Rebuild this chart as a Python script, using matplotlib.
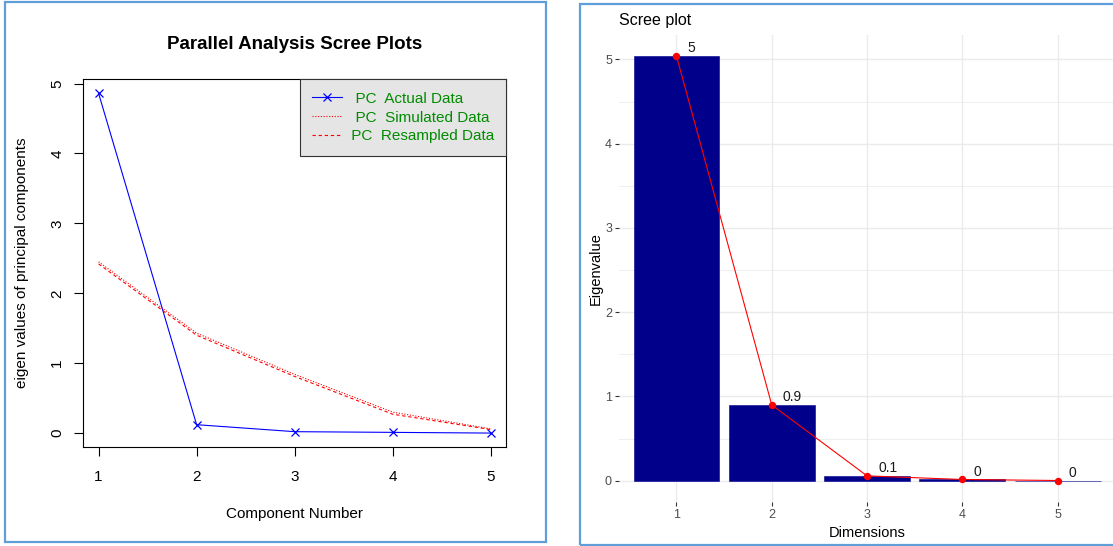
import matplotlib.pyplot as plt
from matplotlib.patches import Rectangle
from matplotlib.ticker import MultipleLocator

plt.rcParams['font.family'] = ['Liberation Sans', 'DejaVu Sans']

# left: parallel analysis scree (psych style)
components = [1, 2, 3, 4, 5]
pc_actual = [4.86, 0.12, 0.02, 0.01, 0.00]
pc_simulated = [2.45, 1.43, 0.84, 0.30, 0.06]
pc_resampled = [2.42, 1.40, 0.81, 0.27, 0.05]
legend_labels = ["  PC  Actual Data", "  PC  Simulated Data", " PC  Resampled Data"]

# right: scree plot with bars (factoextra style)
dimensions = [1, 2, 3, 4, 5]
eigenvalues = [5.04, 0.90, 0.058, 0.015, 0.003]

W, H = 1113, 546
fig = plt.figure(figsize=(W / 100, H / 100), dpi=100)

def px_axes(x0, y0, x1, y1):
    # pixel box (top-left origin) -> figure fraction
    return fig.add_axes([x0 / W, 1 - y1 / H, (x1 - x0) / W, (y1 - y0) / H])

# panel frames
border = '#5f9ed8'
fig.patches.append(Rectangle((5 / W, 1 - 542 / H), 541 / W, 540 / H, transform=fig.transFigure,
                             fill=False, edgecolor=border, linewidth=1.6))
fig.patches.append(Rectangle((580 / W, 1 - 545 / H), 545 / W, 541 / H, transform=fig.transFigure,
                             fill=False, edgecolor=border, linewidth=1.6))

#---------------- left panel
ax = px_axes(82.9, 79.4, 506.4, 446.7)
ax.plot(components, pc_actual, color='blue', lw=0.8, marker='x', ms=6, mew=0.9, label=legend_labels[0])
ax.plot(components, pc_simulated, color='red', lw=0.8, ls=(0, (1, 1.5)), label=legend_labels[1])
ax.plot(components, pc_resampled, color='red', lw=0.8, ls=(0, (3, 2.5)), label=legend_labels[2])
ax.set_xlim(0.84, 5.16)
ax.set_ylim(-0.195, 5.06)
ax.set_xticks(components)
ax.set_yticks(range(6))
ax.tick_params(direction='out', length=6.5, width=0.8, labelsize=11)
ax.tick_params(axis='x', pad=10)
ax.tick_params(axis='y', labelrotation=90, pad=7)
for lab in ax.get_yticklabels():
    lab.set_va('center')
for s in ax.spines.values():
    s.set_linewidth(0.8)
ax.set_title("Parallel Analysis Scree Plots", fontsize=13.5, fontweight='bold', pad=22)
ax.set_xlabel("Component Number", fontsize=11, labelpad=17)
ax.set_ylabel("eigen values of principal components", fontsize=11, labelpad=15)
leg = ax.legend(loc='upper right', borderaxespad=0, fancybox=False, framealpha=1,
                facecolor='#E5E5E5', edgecolor='#333333', fontsize=11, labelcolor='#008B00',
                handlelength=2.0, handletextpad=0.3, borderpad=0.8, labelspacing=0.32,
                numpoints=1)
leg.get_frame().set_linewidth(0.8)

#---------------- right panel
ax2 = px_axes(619.3, 34.8, 1114.8, 502)
ax2.bar(dimensions, eigenvalues, width=0.9, color='#00008B', edgecolor='#00008B', linewidth=0.4, zorder=2)
ax2.plot(dimensions, eigenvalues, color='red', lw=0.8, marker='o', ms=4.3, zorder=3)
for x, v in zip(dimensions, eigenvalues):
    ax2.annotate(f"{round(v, 1):g}", (x, v), xytext=(8, 2.8), textcoords='offset points',
                 ha='left', va='baseline', fontsize=10, color='#1a1a1a', zorder=4)
ax2.set_xlim(0.4, 5.6)
ax2.set_ylim(-0.252, 5.292)
ax2.set_xticks(dimensions)
ax2.set_yticks(range(6))
ax2.yaxis.set_minor_locator(MultipleLocator(0.5))
ax2.grid(which='major', color='#EBEBEB', lw=1.0, zorder=0)
ax2.grid(which='minor', axis='y', color='#EBEBEB', lw=0.6, zorder=0)
ax2.set_axisbelow(True)
for s in ax2.spines.values():
    s.set_visible(False)
ax2.tick_params(which='major', length=2.8, width=0.8, color='#333333', labelsize=9,
                labelcolor='#4D4D4D', pad=2.5)
ax2.tick_params(which='minor', length=0)
ax2.set_title("Scree plot", loc='left', fontsize=11.5, pad=7)
ax2.set_xlabel("Dimensions", fontsize=10.5, labelpad=3)
ax2.set_ylabel("Eigenvalue", fontsize=10.5, labelpad=1.5)

fig.savefig('out.png', dpi=100)
